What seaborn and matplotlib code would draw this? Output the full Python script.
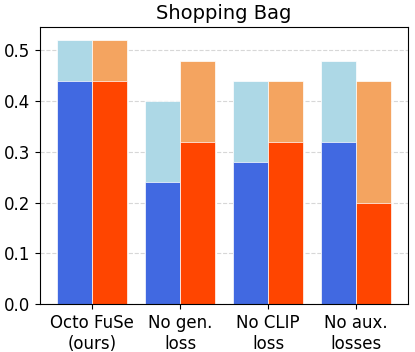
import pandas as pd
import seaborn as sns
import matplotlib.pyplot as plt

categories = ["Octo FuSe\n(ours)", "No gen.\nloss", "No CLIP\nloss", "No aux.\nlosses"]
series = ["A", "B"]
# lower (dark) segment and total height (light top) per series
low_a = [0.44, 0.24, 0.28, 0.32]
top_a = [0.52, 0.40, 0.44, 0.48]
low_b = [0.44, 0.32, 0.32, 0.20]
top_b = [0.52, 0.48, 0.44, 0.44]


def main():
    df = pd.DataFrame({
        "category": categories * 2,
        "series": [series[0]] * 4 + [series[1]] * 4,
        "low": low_a + low_b,
        "top": top_a + top_b,
    })

    fig, ax = plt.subplots(figsize=(4.15, 3.52), dpi=100)
    sns.barplot(data=df, x="category", y="top", hue="series", palette=["lightblue", "sandybrown"],
                saturation=1, legend=False, ax=ax, edgecolor="white", linewidth=0.5)
    sns.barplot(data=df, x="category", y="low", hue="series", palette=["royalblue", "orangered"],
                saturation=1, legend=False, ax=ax, edgecolor="white", linewidth=0.5)

    ax.set_title("Shopping Bag", fontsize=14)
    ax.set_xlabel("")
    ax.set_ylabel("")
    ax.set_xlim(-0.59, 3.59)
    ax.tick_params(labelsize=12)
    ax.yaxis.grid(True, linestyle="--", alpha=0.5)
    ax.set_axisbelow(True)

    plt.subplots_adjust(left=0.097, right=0.983, top=0.923, bottom=0.136)
    plt.savefig("out.png", dpi=100)
    plt.close()


if __name__ == "__main__":
    main()
